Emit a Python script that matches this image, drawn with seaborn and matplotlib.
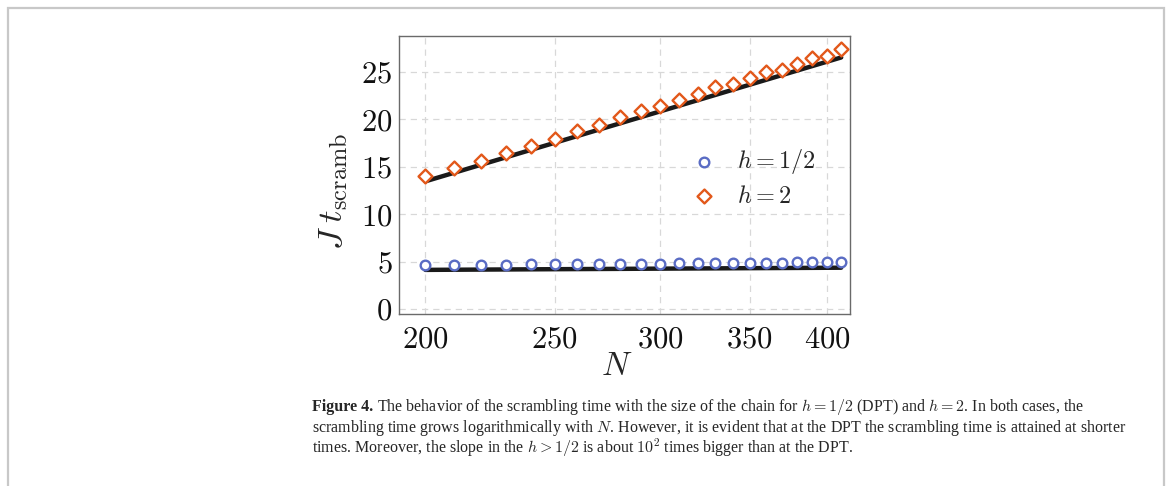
import numpy as np
import seaborn as sns
import matplotlib.pyplot as plt
from matplotlib.ticker import FixedLocator, FixedFormatter, NullLocator
from matplotlib.patches import Rectangle

# ---------------------------------------------------------------------------
# data
N = [200, 210, 220, 230, 240, 250, 260, 270, 280, 290, 300,
     310, 320, 330, 340, 350, 360, 370, 380, 390, 400, 410]

t_half = [4.62, 4.64, 4.66, 4.66, 4.69, 4.70, 4.72, 4.74, 4.76, 4.78, 4.79,
          4.80, 4.82, 4.83, 4.84, 4.86, 4.87, 4.88, 4.90, 4.91, 4.92, 4.95]

t_two = [14.0, 14.85, 15.6, 16.4, 17.2, 17.95, 18.75, 19.4, 20.2, 20.9, 21.35,
         22.0, 22.7, 23.35, 23.7, 24.3, 24.95, 25.2, 25.85, 26.4, 26.7, 27.35]

# logarithmic fits (straight lines on the log-N axis), endpoints
fit_N = [200, 410]
fit_half = [4.12, 4.35]
fit_two = [13.45, 26.5]

xticks = [200, 250, 300, 350, 400]
yticks = [0, 5, 10, 15, 20, 25]

caption_head = "Figure 4."
caption = [
    " The behavior of the scrambling time with the size of the chain for $h=1/2$ (DPT) and $h=2$. In both cases, the",
    "scrambling time grows logarithmically with $N$. However, it is evident that at the DPT the scrambling time is attained at shorter",
    "times. Moreover, the slope in the $h>1/2$ is about $10^2$ times bigger than at the DPT.",
]

#------------------------------------------------------------------------------
sns.set_theme(style='white')
plt.rcParams['mathtext.fontset'] = 'cm'
plt.rcParams['font.family'] = ['Liberation Serif', 'DejaVu Serif']

blue = '#5a6cc4'
orange = '#e2581a'
gridc = '#d8d8d8'
framec = '#6a6a6a'

W, H = 1168, 486
fig = plt.figure(figsize=(W / 100, H / 100), dpi=100)

x0, x1, y0, y1 = 399.3, 850.3, 36.0, 314.3
ax = fig.add_axes([x0 / W, 1 - y1 / H, (x1 - x0) / W, (y1 - y0) / H])

sns.lineplot(x=fit_N, y=fit_two, color='k', linewidth=3.2, ax=ax, legend=False, zorder=2)
sns.lineplot(x=fit_N, y=fit_half, color='k', linewidth=3.2, ax=ax, legend=False, zorder=2)

sns.scatterplot(x=N, y=t_half, marker='o', s=48, color=blue, facecolor='white',
                edgecolor=blue, linewidth=1.7, ax=ax, label='$h=1/2$', zorder=3)
sns.scatterplot(x=N, y=t_two, marker='D', s=50, color=orange, facecolor='white',
                edgecolor=orange, linewidth=1.7, ax=ax, label='$h=2$', zorder=3)

ax.set_xscale('log')
ax.set_xlim(191.2, 416.5)
ax.set_ylim(-0.56, 28.76)

ax.xaxis.set_major_locator(FixedLocator(xticks))
ax.xaxis.set_major_formatter(FixedFormatter([f'${v}$' for v in xticks]))
ax.xaxis.set_minor_locator(NullLocator())
ax.yaxis.set_major_locator(FixedLocator(yticks))
ax.yaxis.set_major_formatter(FixedFormatter([f'${v}$' for v in yticks]))

ax.grid(True, color=gridc, linestyle=(0, (5, 4)), linewidth=0.9)
ax.set_axisbelow(True)
for sp in ax.spines.values():
    sp.set_color(framec)
    sp.set_linewidth(1.0)

ax.tick_params(axis='both', which='major', direction='in', length=5, width=0.8,
               color=framec, labelsize=22, labelcolor='#111111')
ax.tick_params(axis='y', pad=5)
ax.tick_params(axis='x', pad=8)

ax.set_xlabel('$N$', fontsize=24)
ax.xaxis.set_label_coords(0.483, -0.135)
ax.set_ylabel(r'$J\;t_{\mathrm{scramb}}$', fontsize=25)
ax.yaxis.set_label_coords(-0.108, 0.44)

leg = ax.legend(loc='center left', bbox_to_anchor=(0.622, 0.492), frameon=False,
                fontsize=17.5, handlelength=1.0, handletextpad=0.85,
                borderpad=0, labelspacing=0.4, markerscale=1.0)

#------------------------------------------------------------------------------
# figure frame and caption
fig.patches.append(Rectangle((8 / W, -0.05), (1164 - 8) / W, 1.05 - 8 / H,
                             transform=fig.transFigure, fill=False,
                             edgecolor='#c8c8c8', linewidth=1.6))

cap_x = 312 / W
cap_base = [411, 432, 453]
cap_fs = 11.5
t0 = fig.text(cap_x, 1 - cap_base[0] / H, caption_head, fontsize=cap_fs,
              fontweight='bold', va='baseline', ha='left')
fig.canvas.draw()
bb = t0.get_window_extent()
fig.text(bb.x1 / W, 1 - cap_base[0] / H, caption[0], fontsize=cap_fs,
         va='baseline', ha='left')
for line, yy in zip(caption[1:], cap_base[1:]):
    fig.text(cap_x, 1 - yy / H, line, fontsize=cap_fs, va='baseline', ha='left')

fig.savefig('out.png', dpi=100)
